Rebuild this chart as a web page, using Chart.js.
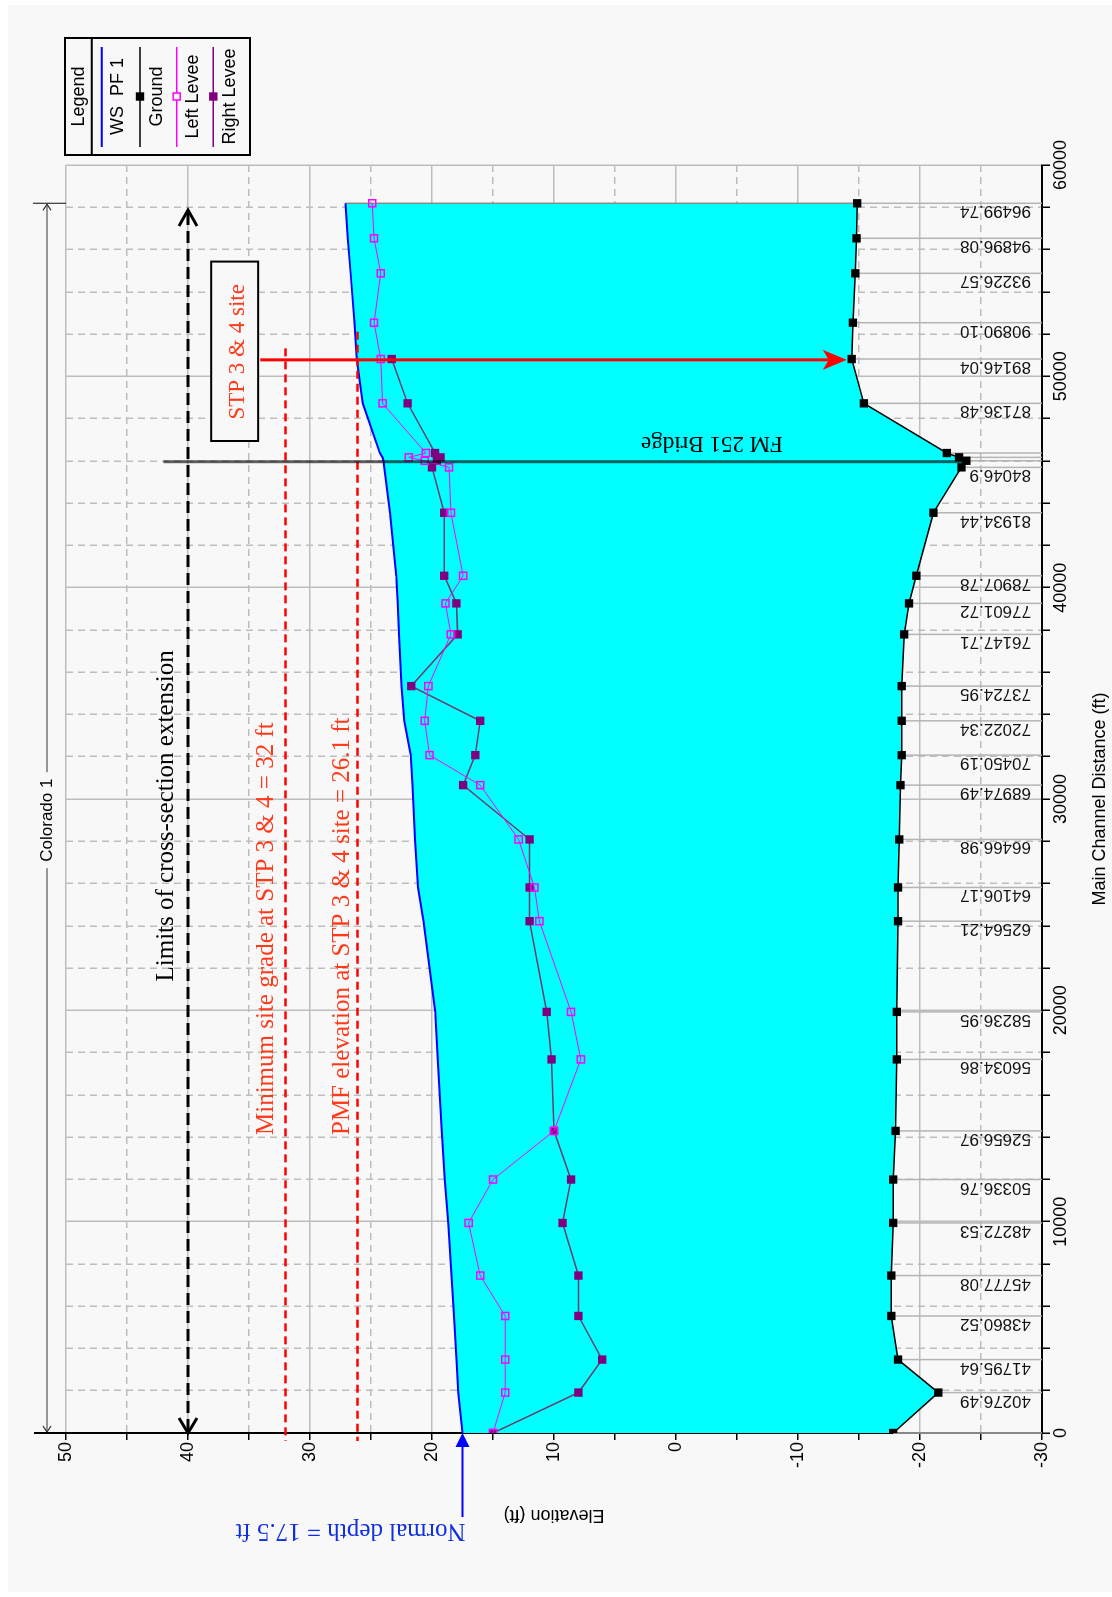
<!DOCTYPE html>
<html>
<head>
<meta charset="utf-8">
<title>Colorado 1 profile</title>
<script src="https://cdn.jsdelivr.net/npm/chart.js@4.4.1/dist/chart.umd.min.js"></script>
<style>
  html, body { margin: 0; padding: 0; background: #ffffff; }
  body { width: 1112px; height: 1597px; overflow: hidden; position: relative; }
  /* profile is drawn lying down and turned a quarter turn */
  #profileChart { position: absolute; left: 0; top: 0; transform-origin: 0 0; transform: translate(0px, 1597px) rotate(-90deg); }
</style>
</head>
<body>
<canvas id="profileChart" width="1597" height="1112"></canvas>
<script>
// main channel distance (ft) of each cross section, downstream to upstream
const distance = [0, 1912, 3474, 5538, 7450, 9940, 11994, 14294, 17678, 19926, 24219, 25814, 28086, 30656, 32076, 33699, 35342, 37789, 39256, 40562, 43544, 45693, 46005, 46166, 46371, 48722, 50819, 52537, 54875, 56532, 58188];
const riverStation = [null, "40276.49", "41795.64", "43860.52", "45777.08", "48272.53", "50336.76", "52656.97", "56034.86", "58236.95", "62564.21", "64106.17", "66466.98", "68974.49", "70450.19", "72022.34", "73724.95", "76147.71", "77601.72", "78907.78", "81934.44", "84046.9", null, null, null, "87136.48", "89146.04", "90890.10", "93226.57", "94896.08", "96499.74"];

// elevations (ft)
const wsPF1 = [17.5, 17.85, 18.0, 18.2, 18.4, 18.67, 18.95, 19.2, 19.53, 19.73, 20.7, 21.15, 21.4, 21.6, 21.75, 22.27, 22.5, 22.7, 22.8, 22.93, 23.45, 23.92, 23.98, 24.06, 24.27, 25.68, 26.16, 26.36, 26.67, 26.9, 27.1];
const ground = [-17.8, -21.5, -18.2, -17.65, -17.65, -17.8, -17.8, -18.0, -18.1, -18.1, -18.2, -18.2, -18.3, -18.4, -18.5, -18.5, -18.5, -18.7, -19.1, -19.7, -21.1, -23.4, -23.8, -23.2, -22.2, -15.4, -14.4, -14.5, -14.7, -14.8, -14.85];
const leftLevee = [15.0, 14.0, 14.0, 14.0, 16.05, 17.0, 15.0, 10.0, 7.8, 8.6, 11.2, 11.6, 12.9, 16.05, 20.2, 20.6, 20.3, 18.45, 18.9, 17.45, 18.45, 18.6, 20.6, 21.9, 20.5, 24.05, 24.2, 24.75, 24.2, 24.75, 24.9];
const rightLevee = [15.0, 8.0, 6.05, 8.0, 8.0, 9.3, 8.6, 10.0, 10.2, 10.6, 12.0, 12.0, 12.0, 17.45, 16.45, 16.05, 21.7, 17.9, 18.0, 19.0, 19.0, 20.0, 19.6, 19.3, 19.75, 22.0, 23.3, null, null, null, null];

// labelled ticks
const elevationTicks = [-30, -20, -10, 0, 10, 20, 30, 40, 50];
const distanceTicks = [0, 10000, 20000, 30000, 40000, 50000, 60000];

// reference levels (ft)
const normalDepth = 17.5;
const minSiteGrade = 32;
const pmfElevation = 26.1;
const limitsElevation = 40;

const SANS = '"Liberation Sans", Arial, sans-serif';
const SERIF = '"Liberation Serif", "Times New Roman", serif';
const NOTE_RED = "#ff3a1a";

const toPoints = (vals) => distance.map((d, i) => ({ x: d, y: vals[i] }));

function line(c, u1, v1, u2, v2) {
  c.beginPath();
  c.moveTo(u1, v1);
  c.lineTo(u2, v2);
  c.stroke();
}

// open V head, (du, dv) points from the tip back along the shaft
function chevron(c, u, v, du, dv, len, half) {
  c.beginPath();
  c.moveTo(u + du * len - dv * half, v + dv * len + du * half);
  c.lineTo(u, v);
  c.lineTo(u + du * len + dv * half, v + dv * len - du * half);
  c.stroke();
}

function solidHead(c, u, v, du, dv, len, half, notch) {
  c.beginPath();
  c.moveTo(u, v);
  c.lineTo(u + du * len - dv * half, v + dv * len + du * half);
  c.lineTo(u + du * (len - notch), v + dv * (len - notch));
  c.lineTo(u + du * len + dv * half, v + dv * len - du * half);
  c.closePath();
  c.fill();
}

// text turned to run up the canvas
function upText(c, str, u, v, font, color) {
  c.save();
  c.translate(u, v);
  c.rotate(-Math.PI / 2);
  c.font = font;
  c.fillStyle = color;
  c.textAlign = "left";
  c.textBaseline = "alphabetic";
  c.fillText(str, 0, 0);
  c.restore();
}

function flatText(c, str, u, v, font, color, align, baseline) {
  c.font = font;
  c.fillStyle = color;
  c.textAlign = align || "left";
  c.textBaseline = baseline || "alphabetic";
  c.fillText(str, u, v);
}

function drawLegend(c) {
  const u0 = 1442, u1 = 1559, v0 = 65, v1 = 250;
  const uMid = (u0 + u1) / 2;
  c.save();
  c.strokeStyle = "#000";
  c.lineWidth = 2;
  c.strokeRect(u0, v0, u1 - u0, v1 - v0);
  line(c, u0, 91.7, u1, 91.7);
  flatText(c, "Legend", uMid, 79, "18px " + SANS, "#000", "center", "middle");

  const rows = [
    { text: "WS  PF 1", color: "#0000ff", v: 101.7, marker: null },
    { text: "Ground", color: "#000000", v: 140, marker: "fill" },
    { text: "Left Levee", color: "#ff00ff", v: 176.7, marker: "open" },
    { text: "Right Levee", color: "#800080", v: 213.3, marker: "fill" },
  ];
  rows.forEach((r) => {
    c.strokeStyle = r.color;
    c.lineWidth = r.marker ? 1.5 : 2;
    line(c, 1450, r.v, 1550, r.v);
    if (r.marker === "fill") {
      c.fillStyle = r.color;
      c.fillRect(uMid - 4.2, r.v - 4.2, 8.4, 8.4);
    } else if (r.marker === "open") {
      c.fillStyle = "#f8f8f8";
      c.fillRect(uMid - 3.5, r.v - 3.5, 7, 7);
      c.lineWidth = 1.5;
      c.strokeRect(uMid - 3.5, r.v - 3.5, 7, 7);
    }
    flatText(c, r.text, uMid, r.v + 21.5, "18px " + SANS, "#000", "center");
  });
  c.restore();
}

const profileNotes = {
  id: "profileNotes",
  beforeDraw(chart) {
    const c = chart.ctx;
    c.save();
    c.fillStyle = "#ffffff";
    c.fillRect(0, 0, chart.width, chart.height);
    c.fillStyle = "#f8f8f8";
    c.fillRect(5, 8, 1587, 1104);
    c.restore();
  },
  beforeDatasetsDraw(chart) {
    const { ctx: c, scales: { x, y } } = chart;
    c.save();
    // river station lines from the channel bed down to the axis
    c.strokeStyle = "#b4b4b4";
    c.lineWidth = 1.5;
    distance.forEach((d, i) => {
      const u = x.getPixelForValue(d);
      line(c, u, y.getPixelForValue(ground[i]), u, y.getPixelForValue(-30));
    });
    const last = distance.length - 1;
    const uTop = x.getPixelForValue(distance[last]);
    c.strokeStyle = "#8a8a8a";
    line(c, uTop, y.getPixelForValue(wsPF1[last]), uTop, y.getPixelForValue(ground[last]));
    c.restore();
  },
  afterDraw(chart) {
    const { ctx: c, scales: { x, y } } = chart;
    const u0 = x.getPixelForValue(0);
    const uEnd = x.getPixelForValue(distance[distance.length - 1]);
    c.save();

    // river station labels
    distance.forEach((d, i) => {
      if (!riverStation[i]) return;
      upText(c, riverStation[i], x.getPixelForValue(d) - 3, 1031, "17px " + SANS, "#111");
    });

    // site grade and PMF levels
    c.strokeStyle = "#ff0000";
    c.lineWidth = 2.5;
    c.setLineDash([8, 5]);
    const vGrade = y.getPixelForValue(minSiteGrade);
    const vPmf = y.getPixelForValue(pmfElevation);
    line(c, x.getPixelForValue(51324), vGrade, u0 - 8, vGrade);
    line(c, x.getPixelForValue(52110), vPmf, u0 - 8, vPmf);
    c.setLineDash([]);
    flatText(c, "Minimum site grade at STP 3 & 4 = " + minSiteGrade + " ft", x.getPixelForValue(14100), vGrade - 13, "25px " + SERIF, NOTE_RED);
    flatText(c, "PMF elevation at STP 3 & 4 site = " + pmfElevation + " ft", x.getPixelForValue(14100), vPmf - 9, "25px " + SERIF, NOTE_RED);

    // limits of cross-section extension
    const vLim = y.getPixelForValue(limitsElevation);
    const uLimTop = x.getPixelForValue(57870);
    c.strokeStyle = "#000";
    c.lineWidth = 3;
    c.setLineDash([12, 6]);
    line(c, u0 + 2, vLim, uLimTop - 2, vLim);
    c.setLineDash([]);
    chevron(c, uLimTop, vLim, -1, 0, 16, 9);
    chevron(c, u0, vLim, 1, 0, 15, 9);
    flatText(c, "Limits of cross-section extension", x.getPixelForValue(29200), vLim - 15, "25px " + SERIF, "#000", "center");

    // reach dimension line
    const vDim = y.getPixelForValue(50) - 19;
    const uLabel = x.getPixelForValue(29000);
    c.strokeStyle = "#333";
    c.lineWidth = 1.2;
    line(c, u0 + 1, vDim, uLabel - 48, vDim);
    line(c, uLabel + 48, vDim, uEnd - 1, vDim);
    chevron(c, uEnd - 1, vDim, -1, 0, 6, 4);
    chevron(c, u0 + 1, vDim, 1, 0, 6, 4);
    line(c, uEnd, vDim - 14, uEnd, y.getPixelForValue(50));
    c.strokeStyle = "#000";
    c.lineWidth = 2;
    line(c, u0, vDim - 13, u0, y.getPixelForValue(50));
    flatText(c, "Colorado 1", uLabel, vDim, "17px " + SANS, "#000", "center", "middle");

    // site call-out box and arrow
    const bu1 = x.getPixelForValue(46940), bu2 = x.getPixelForValue(55430);
    const bv1 = y.getPixelForValue(38.1), bv2 = y.getPixelForValue(34.25);
    c.fillStyle = "#f8f8f8";
    c.fillRect(bu1, bv1, bu2 - bu1, bv2 - bv1);
    c.strokeStyle = "#000";
    c.lineWidth = 2;
    c.strokeRect(bu1, bv1, bu2 - bu1, bv2 - bv1);
    flatText(c, "STP 3 & 4 site", x.getPixelForValue(51160), bv2 - 14, "23px " + SERIF, NOTE_RED, "center");
    const uArrow = x.getPixelForValue(50780);
    const vTip = y.getPixelForValue(-14.0);
    c.strokeStyle = "#ff0000";
    c.fillStyle = "#ff0000";
    c.lineWidth = 3;
    line(c, uArrow, bv2 + 2, uArrow, vTip - 18);
    solidHead(c, uArrow, vTip, 0, -1, 24, 10, 6);

    // bridge
    const uBridge = x.getPixelForValue(45960);
    c.strokeStyle = "rgba(0, 0, 0, 0.62)";
    c.lineWidth = 3;
    line(c, uBridge, y.getPixelForValue(42), uBridge, y.getPixelForValue(-23.85));
    upText(c, "FM 251 Bridge", uBridge + 25, y.getPixelForValue(-8.76), "23px " + SERIF, "#000");

    // normal depth boundary
    const vNd = y.getPixelForValue(normalDepth);
    c.strokeStyle = "#0000ff";
    c.fillStyle = "#0000ff";
    c.lineWidth = 2;
    line(c, 80, vNd, u0 - 12, vNd);
    solidHead(c, u0, vNd, -1, 0, 14, 7, 0);
    upText(c, "Normal depth = " + normalDepth + " ft", 73, vNd + 3, "25px " + SERIF, "#1030e0");

    drawLegend(c);
    c.restore();
  },
};

// chart.js chart ------------------

const ctx = document.getElementById("profileChart").getContext("2d");
const profileChart = new Chart(ctx, {
  type: "line",
  data: {
    datasets: [
      {
        label: "WS  PF 1",
        data: toPoints(wsPF1),
        borderColor: "#0000ff",
        borderWidth: 2,
        pointRadius: 0,
        fill: "+1",
        backgroundColor: "#00ffff",
      },
      {
        label: "Ground",
        data: toPoints(ground),
        borderColor: "#000000",
        borderWidth: 1.5,
        pointStyle: "rect",
        pointRadius: 5.9,
        pointBackgroundColor: "#000000",
        pointBorderWidth: 0,
        fill: false,
      },
      {
        label: "Left Levee",
        data: toPoints(leftLevee),
        borderColor: "#ff00ff",
        borderWidth: 1,
        pointStyle: "rect",
        pointRadius: 5,
        pointBackgroundColor: "rgba(0, 0, 0, 0)",
        pointBorderColor: "#ff00ff",
        pointBorderWidth: 1.5,
        fill: false,
      },
      {
        label: "Right Levee",
        data: toPoints(rightLevee),
        borderColor: "#6b3d6e",
        borderWidth: 1.5,
        pointStyle: "rect",
        pointRadius: 5.9,
        pointBackgroundColor: "#7f007f",
        pointBorderWidth: 0,
        fill: false,
      },
    ],
  },
  options: {
    responsive: false,
    animation: false,
    devicePixelRatio: 1,
    events: [],
    layout: { padding: { top: 66, right: 165, bottom: 0, left: 0 } },
    plugins: {
      legend: { display: false },
      tooltip: { enabled: false },
      filler: { drawTime: "beforeDatasetsDraw" },
    },
    scales: {
      x: {
        type: "linear",
        position: "bottom",
        min: 0,
        max: 60000,
        afterFit: (s) => { s.height = 70; },
        ticks: {
          stepSize: 2000,
          autoSkip: false,
          maxRotation: 0,
          minRotation: 0,
          padding: 0,
          color: "#000",
          font: { family: SANS, size: 18 },
          callback: (v) => (distanceTicks.includes(v) ? String(v) : ""),
        },
        grid: { color: "#bdbdbd", lineWidth: 1.5, tickLength: 8, tickColor: "#000", tickWidth: 1.5 },
        border: {
          color: "#000",
          width: 2,
          dash: (c) => (c.tick && !distanceTicks.includes(c.tick.value) ? [7, 5] : []),
        },
        title: {
          display: true,
          text: "Main Channel Distance (ft)",
          color: "#000",
          font: { family: SANS, size: 18 },
          padding: { top: 0, bottom: 1 },
        },
      },
      y: {
        type: "linear",
        min: -30,
        max: 50,
        afterFit: (s) => { s.width = 164; },
        ticks: {
          stepSize: 5,
          autoSkip: false,
          padding: 2,
          color: "#000",
          font: { family: SANS, size: 18 },
          callback: (v) => (elevationTicks.includes(v) ? String(v) : ""),
        },
        grid: { color: "#bdbdbd", lineWidth: 1.5, tickLength: 7, tickColor: "#000", tickWidth: 1.5 },
        border: {
          color: "#000",
          width: 2,
          dash: (c) => (c.tick && !elevationTicks.includes(c.tick.value) ? [7, 5] : []),
        },
        title: {
          display: true,
          text: "Elevation (ft)",
          color: "#000",
          font: { family: SANS, size: 18 },
          padding: { top: 71, bottom: 0 },
        },
      },
    },
  },
  plugins: [profileNotes],
});
</script>
</body>
</html>
